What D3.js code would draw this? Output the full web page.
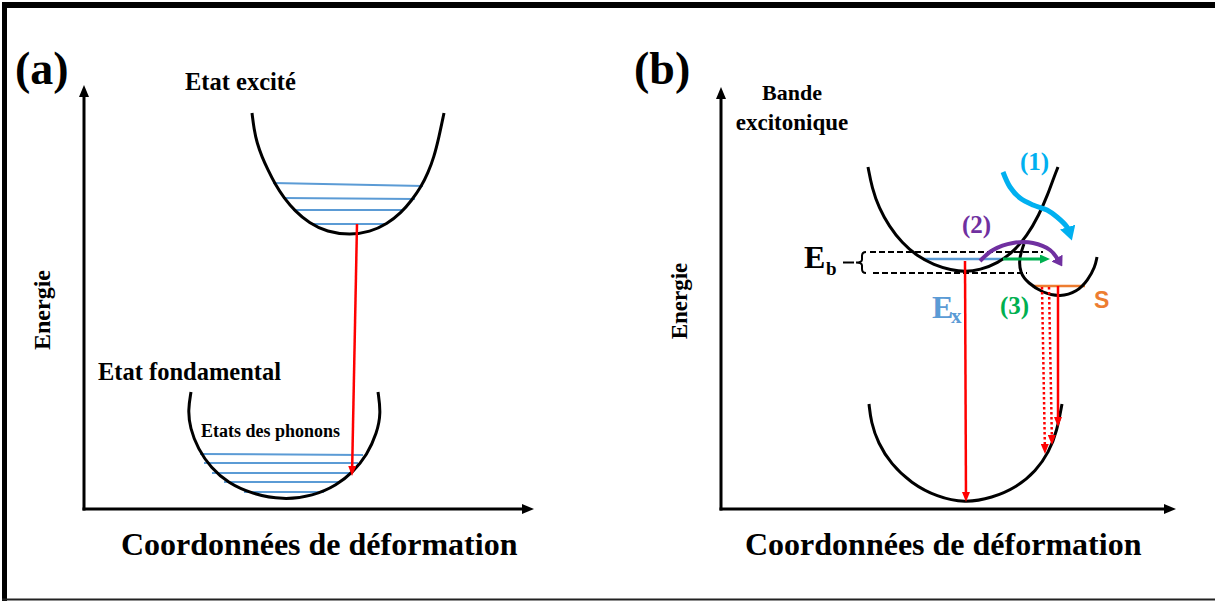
<!DOCTYPE html>
<html><head><meta charset="utf-8">
<script src="https://cdn.jsdelivr.net/npm/d3@7"></script>
<style>
html,body{margin:0;padding:0;background:#fff;}
text{font-family:"Liberation Serif","Times New Roman",serif;font-weight:bold;}
</style></head>
<body><div id="chart"></div>
<script>
// ---------- DATA (schematic units: deformation coordinate, energy) ----------
// Panel (a)
const aExcited = [[168,396],[170,380],[173,366],[178,352],[184,339],[191,325],[200,311],[211,298],[225,286],[243,277],[266,274],[286,277],[303,285],[317,296],[328,309],[337,322],[344,336],[350,352],[355,372],[360,396]];
const aExcitedLevels = [[189,339,326,323],[199,331,311,310],[209,320,299,299],[228,303,285,285]]; // x1,x2,e1,e2
const aGround = [[107,117],[104,99],[106,81],[114,60],[127,41],[144,26],[168,15],[199,9],[229,13],[253,24],[269,37],[283,54],[293,76],[297,96],[294,117]];
const aPhononLevels = [[116,279,55,54],[120,274,46,46],[128,267,36,36],[140,257,27,27],[160,240,17,17]];
const aTransition = [[273,285],[268,33]];

// Panel (b)
const bExciton = [[147,342],[151,321],[158,301],[168,283],[181,266],[196,253],[213,244],[230,239],[244,237],[259,239],[277,246],[292,257],[306,273],[318,294],[327,315],[333,332],[337,342]];
const bTrap = [[303,265],[298,251],[299,236],[307,226],[322,216],[339,212],[356,217],[367,229],[374,242],[376,252]];
const bGround = [[148,105],[150,87],[157,66],[170,45],[190,26],[216,12],[244,6],[271,11],[296,22],[315,38],[328,57],[336,78],[341,105]];
const bExLevel = [202,282,250];
const bSLevel = [311,364,223];
const bEbTop = [149,322,257];
const bEbBottom = [152,306,236];
const bGreen = [[282,250],[329,250]];
const bExArrow = [[244,248],[245,7]];
const bSArrow = [[337,223],[337,82]];
const bDotted = [[[321,222],[324,55]],[[328,222],[331,64]]];
const bPurple = [[259,248],[272,259],[292,266],[312,266],[329,259],[342,243]];
const bCyan = [[282,337],[289,322],[299,311],[312,304],[326,299],[336,292],[346,282],[352,269]];
const bBrace = [141,135,257,236]; // x, tipX, eTop, eBottom

const labelsA = {panel:"(a)", top:"Etat excité", ground:"Etat fondamental", phonons:"Etats des phonons", y:"Energie", x:"Coordonnées de déformation"};
const labelsB = {panel:"(b)", band1:"Bande", band2:"excitonique", y:"Energie", x:"Coordonnées de déformation"};

// ---------- DRAW ----------
const W = 1215, H = 602;
const svg = d3.select("#chart").append("svg").attr("width", W).attr("height", H);
const defs = svg.append("defs");
function marker(id, color, l, w) {
  defs.append("marker").attr("id", id).attr("markerUnits","userSpaceOnUse")
    .attr("viewBox", `0 0 ${l} ${w}`).attr("markerWidth", l).attr("markerHeight", w)
    .attr("refX", l*0.3).attr("refY", w/2).attr("orient","auto")
    .append("path").attr("d", `M0,0L${l},${w/2}L0,${w}Z`).attr("fill", color);
}
marker("axis","#000",12,10);
marker("red","#ff0000",10,8);
marker("cyan","#00b0f0",14,16);
marker("purple","#7030a0",10,13);
marker("green","#00b050",10,9);
const heads = {axis:12, red:10, cyan:14, purple:10, green:10};

function shorten(pts, m) {
  const n = pts.length, [x1,y1] = pts[n-2], [x2,y2] = pts[n-1];
  const d = Math.hypot(x2-x1, y2-y1), k = heads[m]*0.7/d;
  const out = pts.slice(); out[n-1] = [x2-(x2-x1)*k, y2-(y2-y1)*k]; return out;
}

// frame
svg.append("rect").attr("x",2).attr("y",2).attr("width",W-2).attr("height",6).attr("fill","#000");
svg.append("rect").attr("x",2).attr("y",2).attr("width",5).attr("height",H-3).attr("fill","#000");
svg.append("line").attr("x1",2).attr("x2",W).attr("y1",599.5).attr("y2",599.5).attr("stroke","#222").attr("stroke-width",2);

function panel(xs, ys) {
  const g = svg.append("g");
  const px = p => [xs(p[0]), ys(p[1])];
  const smooth = d3.line().curve(d3.curveBasis);
  const curve = (data, color, width) => g.append("path")
    .attr("d", smooth(data.map(px)))
    .attr("fill","none").attr("stroke",color).attr("stroke-width",width);
  const arrow = (data, color, width, m, curved, dash) => {
    const pts = shorten(data.map(px), m);
    const p = g.append("path")
      .attr("d", (curved ? d3.line().curve(d3.curveCatmullRom.alpha(0.5)) : d3.line())(pts))
      .attr("fill","none").attr("stroke",color).attr("stroke-width",width)
      .attr("marker-end",`url(#${m})`);
    if (dash) p.attr("stroke-dasharray", dash);
    return p;
  };
  const hline = (x1,x2,e1,e2,color,width,dash) => {
    const l = g.append("line").attr("x1",xs(x1)).attr("x2",xs(x2)).attr("y1",ys(e1)).attr("y2",ys(e2))
      .attr("stroke",color).attr("stroke-width",width);
    if (dash) l.attr("stroke-dasharray",dash);
  };
  // axes
  const [x0,x1] = xs.domain(), [y0,y1] = ys.domain();
  g.append("path").attr("d", d3.line()(shorten([[xs(x0),ys(y0)],[xs(x0),ys(y1)]],"axis")))
    .attr("stroke","#000").attr("stroke-width",3).attr("marker-end","url(#axis)").attr("stroke-linecap","square");
  g.append("path").attr("d", d3.line()(shorten([[xs(x0),ys(y0)],[xs(x1),ys(y0)]],"axis")))
    .attr("stroke","#000").attr("stroke-width",3).attr("marker-end","url(#axis)").attr("stroke-linecap","square");
  return {g, curve, arrow, hline};
}

// Panel (a)
const xA = d3.scaleLinear([0,450],[84,534]);
const yA = d3.scaleLinear([0,424],[509,85]);
const A = panel(xA, yA);
aExcitedLevels.forEach(d => A.hline(d[0],d[1],d[2],d[3],"#5b9bd5",2));
aPhononLevels.forEach(d => A.hline(d[0],d[1],d[2],d[3],"#5b9bd5",2));
A.curve(aExcited,"#000",3);
A.curve(aGround,"#000",3);
A.arrow(aTransition,"#ff0000",2.5,"red");

const txt = (x,y,s,size,color,anchor,family) => {
  const t = svg.append("text").attr("x",x).attr("y",y)
    .attr("font-size",size).attr("fill",color||"#000").attr("text-anchor",anchor||"start").text(s);
  if (family) t.style("font-family", family);
  return t;
};

txt(15,84,labelsA.panel,46);
txt(185,90,labelsA.top,24.5);
txt(98,380,labelsA.ground,24.5);
txt(201,437,labelsA.phonons,18);
txt(121,555,labelsA.x,32);
svg.append("text").attr("transform","translate(50,310) rotate(-90)").attr("text-anchor","middle")
  .attr("font-size",24).text(labelsA.y);

// Panel (b)
const xB = d3.scaleLinear([0,455],[721,1176]);
const yB = d3.scaleLinear([0,422],[509,87]);
const B = panel(xB, yB);
B.hline(bEbTop[0],bEbTop[1],bEbTop[2],bEbTop[2],"#000",2,"6,3");
B.hline(bEbBottom[0],bEbBottom[1],bEbBottom[2],bEbBottom[2],"#000",2,"6,3");
B.hline(bExLevel[0],bExLevel[1],bExLevel[2],bExLevel[2],"#5b9bd5",2.5);
B.hline(bSLevel[0],bSLevel[1],bSLevel[2],bSLevel[2],"#ed7d31",2.5);
B.curve(bExciton,"#000",3);
B.curve(bTrap,"#000",3);
B.curve(bGround,"#000",3);
B.arrow(bExArrow,"#ff0000",2.5,"red");
B.arrow(bSArrow,"#ff0000",2.5,"red");
bDotted.forEach(d => B.arrow(d,"#ff0000",2.5,"red",false,"2.5,2.5"));
B.arrow(bGreen,"#00b050",3,"green");
B.arrow(bPurple,"#7030a0",4,"purple",true);
B.arrow(bCyan,"#00b0f0",5,"cyan",true);
// brace for Eb
{
  const [bx, tx, et, eb] = bBrace, em = (et+eb)/2;
  const X = xB(bx), T = xB(tx), Y1 = yB(et), Y2 = yB(eb), M = yB(em);
  B.g.append("path").attr("d",
    `M${X+4},${Y1} Q${X},${Y1} ${X},${Y1+4} L${X},${M-3} Q${X},${M} ${T},${M} Q${X},${M} ${X},${M+3} L${X},${Y2-4} Q${X},${Y2} ${X+4},${Y2}`)
    .attr("fill","none").attr("stroke","#000").attr("stroke-width",2);
  B.g.append("line").attr("x1",T-13).attr("x2",T-2).attr("y1",M).attr("y2",M).attr("stroke","#000").attr("stroke-width",2);
}

txt(634,84,labelsB.panel,46);
txt(792,100,labelsB.band1,22,null,"middle");
txt(792,130,labelsB.band2,23,null,"middle");
txt(745,555,labelsB.x,32);
svg.append("text").attr("transform","translate(687,301) rotate(-90)").attr("text-anchor","middle")
  .attr("font-size",23).text(labelsB.y);
// Eb
txt(804,268,"E",32);
txt(826,275,"b",19);
// Ex
txt(932,318,"E",32,"#5b9bd5");
txt(951,323,"x",21,"#5b9bd5");
txt(1020,170,"(1)",25,"#00b0f0");
txt(962,233,"(2)",25,"#7030a0");
txt(1000,314,"(3)",25,"#00b050");
txt(1094,308,"S",23,"#ed7d31","start","'Liberation Sans',Arial,sans-serif");
</script></body></html>
